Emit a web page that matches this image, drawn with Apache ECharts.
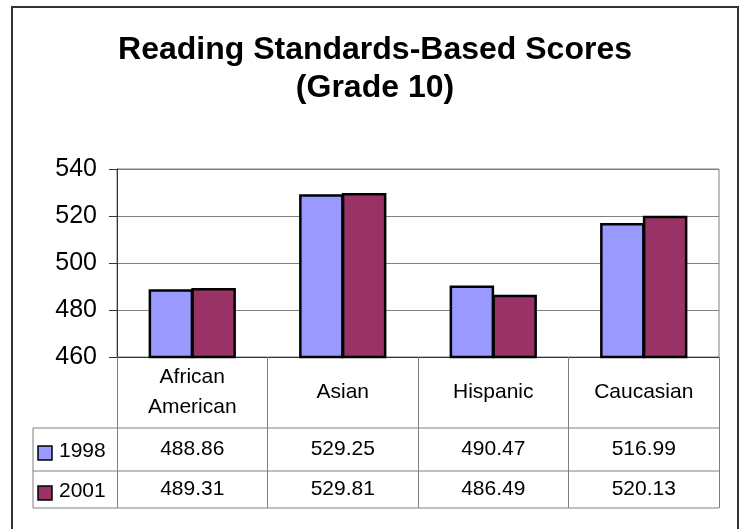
<!DOCTYPE html>
<html>
<head>
<meta charset="utf-8">
<title>Reading Standards-Based Scores (Grade 10)</title>
<script src="https://cdn.jsdelivr.net/npm/echarts@6/dist/echarts.min.js"></script>
<style>
  html, body { margin: 0; padding: 0; background: #fff; }
  #chart { width: 743px; height: 529px; }
</style>
</head>
<body>
<div id="chart"></div>
<script>
// data
const categories = ['African\nAmerican', 'Asian', 'Hispanic', 'Caucasian'];
const seriesNames = ['1998', '2001'];
const scores1998 = [488.86, 529.25, 490.47, 516.99];
const scores2001 = [489.31, 529.81, 486.49, 520.13];
const yTicks = [460, 480, 500, 520, 540];

const FONT = '"Liberation Sans", Arial, sans-serif';
const COLORS = ['#9999ff', '#993366'];
const GRID_LINE = '#808080';
const AXIS_LINE = '#333333';

// data-table layout under the plot (px)
const tableLeft = 33;
const tableRight = 719;
const rowLines = [428, 471, 508];
const rowMid = [449.5, 489.5];

const chart = echarts.init(document.getElementById('chart'));

chart.setOption({
  animation: false,
  backgroundColor: '#fff',
  title: {
    text: 'Reading Standards-Based Scores\n(Grade 10)',
    left: 370,
    textAlign: 'center',
    top: 26,
    textStyle: {
      fontFamily: FONT,
      fontSize: 32,
      fontWeight: 'bold',
      lineHeight: 38,
      color: '#000'
    }
  },
  grid: {
    left: 117, right: 24, top: 169, bottom: 172,
    show: true, borderColor: GRID_LINE, borderWidth: 1
  },
  xAxis: {
    type: 'category',
    data: categories,
    axisLine: { lineStyle: { color: AXIS_LINE, width: 1 } },
    // long ticks double as the table's column dividers
    axisTick: { show: true, length: 151, lineStyle: { color: GRID_LINE, width: 1 } },
    axisLabel: {
      fontFamily: FONT, fontSize: 21, color: '#000',
      lineHeight: 30, margin: 35, verticalAlign: 'middle', interval: 0
    }
  },
  yAxis: {
    type: 'value',
    min: yTicks[0],
    max: yTicks[yTicks.length - 1],
    interval: yTicks[1] - yTicks[0],
    axisLine: { show: true, lineStyle: { color: AXIS_LINE, width: 1 } },
    axisTick: { show: true, length: 8, lineStyle: { color: AXIS_LINE } },
    axisLabel: { fontFamily: FONT, fontSize: 25, color: '#000', margin: 20 },
    splitLine: { lineStyle: { color: GRID_LINE, width: 1 } }
  },
  series: [scores1998, scores2001].map((vals, i) => ({
    name: seriesNames[i],
    type: 'bar',
    data: vals,
    barGap: '-4%',
    barCategoryGap: '42%',
    itemStyle: { color: COLORS[i], borderColor: '#000', borderWidth: 2.5 }
  }))
});

// table rows, legend keys and outer frame
const rows = [scores1998, scores2001];
const graphics = [];

graphics.push({
  type: 'rect', silent: true,
  shape: { x: 12, y: 7, width: 726, height: 600 },
  style: { fill: 'none', stroke: AXIS_LINE, lineWidth: 2 }
});

rowLines.forEach(y => {
  graphics.push({
    type: 'line', silent: true,
    shape: { x1: tableLeft, y1: y, x2: tableRight, y2: y },
    style: { stroke: GRID_LINE, lineWidth: 1 }
  });
});
graphics.push({
  type: 'line', silent: true,
  shape: { x1: tableLeft, y1: rowLines[0], x2: tableLeft, y2: rowLines[rowLines.length - 1] },
  style: { stroke: GRID_LINE, lineWidth: 1 }
});

rows.forEach((vals, r) => {
  graphics.push({
    type: 'rect', silent: true,
    shape: { x: 38, y: rowMid[r] - 3.5, width: 14, height: 14 },
    style: { fill: COLORS[r], stroke: '#000', lineWidth: 1.5 }
  });
  graphics.push({
    type: 'text', silent: true,
    style: {
      x: 59, y: rowMid[r] + 2, text: seriesNames[r],
      font: '21px ' + FONT, fill: '#000',
      textAlign: 'left', textVerticalAlign: 'middle'
    }
  });
  vals.forEach((v, c) => {
    const x = chart.convertToPixel({ xAxisIndex: 0 }, c);
    graphics.push({
      type: 'text', silent: true,
      style: {
        x: x, y: rowMid[r], text: v.toFixed(2),
        font: '21px ' + FONT, fill: '#000',
        textAlign: 'center', textVerticalAlign: 'middle'
      }
    });
  });
});

chart.setOption({ graphic: graphics });
</script>
</body>
</html>
